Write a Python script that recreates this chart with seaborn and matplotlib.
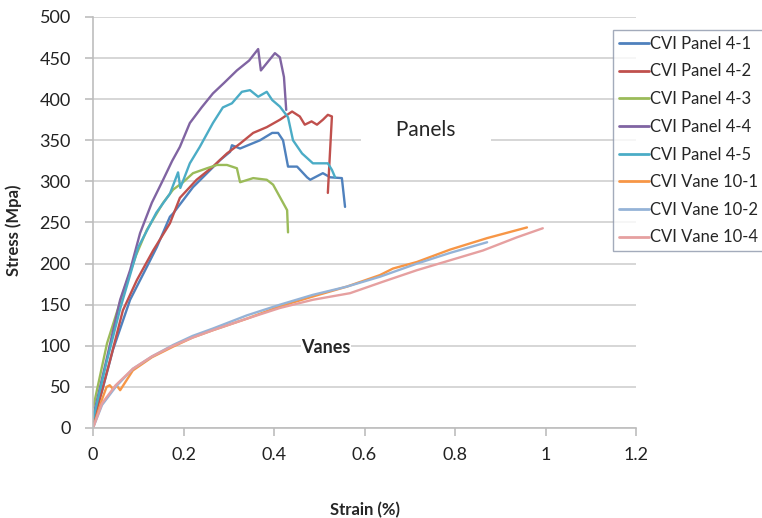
import matplotlib
matplotlib.use("Agg")
import matplotlib.pyplot as plt
import seaborn as sns
import pandas as pd

# series names and colours (Excel 2007 palette)
names = ["CVI Panel 4-1", "CVI Panel 4-2", "CVI Panel 4-3", "CVI Panel 4-4",
         "CVI Panel 4-5", "CVI Vane 10-1", "CVI Vane 10-2", "CVI Vane 10-4"]
colors = ["#4F81BD", "#C0504D", "#9BBB59", "#8064A2",
          "#4BACC6", "#F79646", "#95B3D7", "#E6A0A0"]

# strain (%) / stress (MPa)
p41_x = [0, 0.02, 0.044, 0.082, 0.119, 0.141, 0.17, 0.177, 0.221, 0.252, 0.281, 0.303, 0.307,
         0.325, 0.369, 0.396, 0.409, 0.42, 0.431, 0.451, 0.473, 0.48, 0.508, 0.524, 0.55, 0.557]
p41_y = [8, 45, 95, 156, 196, 220, 257, 261, 293, 310, 326, 336, 344,
         340, 350, 359, 359, 350, 318, 318, 305, 302, 310, 305, 304, 269]

p42_x = [0, 0.038, 0.066, 0.097, 0.133, 0.17, 0.192, 0.229, 0.265, 0.296, 0.325, 0.354, 0.384,
         0.413, 0.44, 0.457, 0.468, 0.483, 0.495, 0.508, 0.519, 0.528, 0.524, 0.519]
p42_y = [5, 83, 143, 180, 216, 249, 280, 302, 318, 334, 346, 359, 366,
         375, 385, 379, 369, 373, 369, 375, 381, 379, 338, 286]

p43_x = [0, 0.004, 0.031, 0.066, 0.095, 0.119, 0.155, 0.177, 0.199, 0.221, 0.252, 0.274, 0.296,
         0.318, 0.325, 0.354, 0.384, 0.398, 0.413, 0.429, 0.431]
p43_y = [25, 34, 103, 164, 210, 241, 274, 290, 299, 310, 316, 320, 320,
         316, 299, 304, 302, 296, 281, 265, 238]

p44_x = [0, 0.031, 0.06, 0.082, 0.104, 0.13, 0.155, 0.175, 0.192, 0.214, 0.24, 0.265, 0.29,
         0.318, 0.345, 0.365, 0.371, 0.402, 0.413, 0.422, 0.427]
p44_y = [13, 86, 156, 192, 237, 274, 302, 325, 342, 371, 390, 407, 420,
         435, 447, 461, 435, 456, 451, 427, 387]

p45_x = [0, 0.03, 0.06, 0.1, 0.14, 0.17, 0.188, 0.193, 0.214, 0.236, 0.265, 0.287, 0.307,
         0.329, 0.347, 0.365, 0.384, 0.396, 0.413, 0.431, 0.442, 0.462, 0.486, 0.519, 0.528, 0.535]
p45_y = [10, 80, 145, 220, 262, 285, 311, 292, 322, 342, 371, 390, 395,
         409, 411, 403, 409, 399, 391, 378, 350, 334, 322, 322, 314, 305]

v1_x = [0, 0.02, 0.03, 0.037, 0.045, 0.052, 0.06, 0.088, 0.13, 0.177, 0.22, 0.265, 0.34, 0.413,
        0.486, 0.561, 0.634, 0.663, 0.716, 0.789, 0.871, 0.959]
v1_y = [0, 35, 50, 52, 47, 52, 46, 70, 86, 99, 110, 119, 133, 148,
        160, 172, 186, 194, 202, 217, 231, 244]

v2_x = [0, 0.02, 0.05, 0.088, 0.13, 0.177, 0.22, 0.265, 0.34, 0.413, 0.486, 0.561, 0.634,
        0.716, 0.789, 0.871]
v2_y = [0, 28, 50, 72, 87, 101, 112, 121, 137, 150, 162, 172, 184,
        200, 213, 226]

v4_x = [0, 0.02, 0.05, 0.088, 0.13, 0.177, 0.22, 0.265, 0.34, 0.413, 0.486, 0.568, 0.641,
        0.716, 0.789, 0.862, 0.937, 0.994]
v4_y = [0, 30, 52, 72, 87, 100, 110, 119, 133, 146, 156, 164, 178,
        192, 204, 216, 232, 243]

xs = [p41_x, p42_x, p43_x, p44_x, p45_x, v1_x, v2_x, v4_x]
ys = [p41_y, p42_y, p43_y, p44_y, p45_y, v1_y, v2_y, v4_y]

rows = []
for name, sx, sy in zip(names, xs, ys):
    for i, (a, b) in enumerate(zip(sx, sy)):
        rows.append({"series": name, "order": i, "strain": a, "stress": b})
df = pd.DataFrame(rows)

sns.set_style("white")
plt.rcParams["font.family"] = ["Lato", "DejaVu Sans"]

fig = plt.figure(figsize=(7.62, 5.18), dpi=100)
ax = fig.add_axes([93 / 762, 90 / 518, 543 / 762, 411 / 518])

sns.lineplot(data=df, x="strain", y="stress", hue="series", hue_order=names,
             palette=dict(zip(names, colors)), sort=False, estimator=None,
             units="series", linewidth=1.7, ax=ax)

ax.set_xlim(0, 1.2)
ax.set_ylim(0, 500)
ax.set_xticks([0, 0.2, 0.4, 0.6, 0.8, 1.0, 1.2])
ax.set_xticklabels(["0", "0.2", "0.4", "0.6", "0.8", "1", "1.2"])
ax.set_yticks(range(0, 501, 50))
ax.yaxis.grid(True, color="#CFCFCF", linewidth=1.2)
ax.set_axisbelow(True)
for s in ["top", "right"]:
    ax.spines[s].set_visible(False)
for s in ["left", "bottom"]:
    ax.spines[s].set_color("#BDBDBD")
    ax.spines[s].set_linewidth(1.2)
ax.tick_params(axis="both", which="major", direction="out", length=6, width=1.2,
               color="#BDBDBD", labelsize=13, labelcolor="#222222", bottom=True, left=True)
ax.tick_params(axis="y", pad=10)
ax.tick_params(axis="x", pad=8)

ax.set_xlabel("Strain (%)", fontsize=12, fontweight="bold", labelpad=28)
ax.set_ylabel("Stress (Mpa)", fontsize=12, fontweight="bold", labelpad=10)
ax.yaxis.set_label_coords(-0.13, 0.48)

ax.text(0.735, 362, "     Panels     ", fontsize=15, ha="center", va="center",
        bbox=dict(facecolor="white", edgecolor="none", boxstyle="square,pad=0.4"))
ax.text(0.515, 98, "Vanes", fontsize=13, fontweight="bold", ha="center", va="center",
        bbox=dict(facecolor="white", edgecolor="none", pad=0.5))

leg = ax.legend(loc="upper left", bbox_to_anchor=(613 / 762, 1 - 30 / 518),
                bbox_transform=fig.transFigure, fontsize=12, frameon=True,
                fancybox=False, edgecolor="#8C96AA", handlelength=1.8,
                handletextpad=0.1, labelspacing=0.7, borderpad=0.35,
                borderaxespad=0)
leg.get_frame().set_linewidth(1.0)
leg.get_frame().set_facecolor("white")
for line in leg.get_lines():
    line.set_linewidth(2)

plt.savefig("out.png", dpi=100)
